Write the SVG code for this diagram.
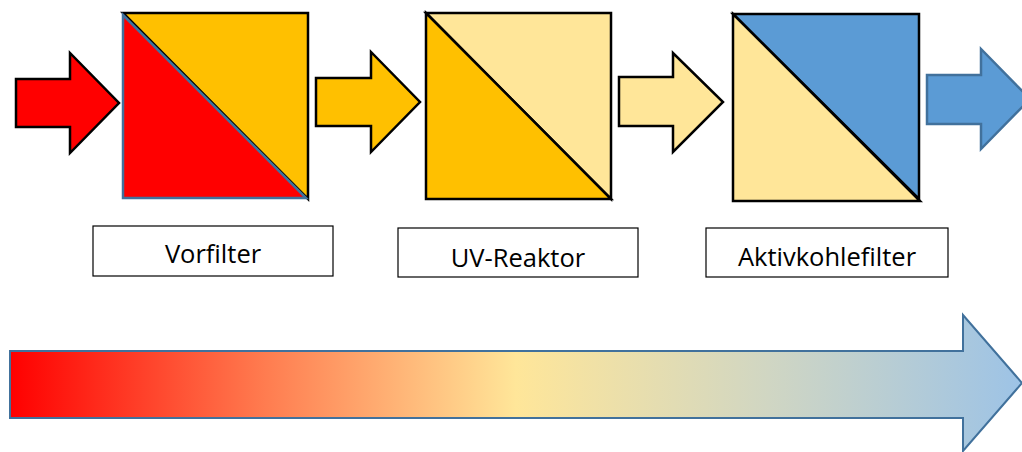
<svg xmlns="http://www.w3.org/2000/svg" width="1022" height="452" viewBox="0 0 1022 452">
<style>
.blk{stroke:#000;stroke-width:2.5;stroke-linejoin:miter}
.blu{stroke:#41719C;stroke-width:2.5;stroke-linejoin:miter}
.lbl{fill:#fff;stroke:#000;stroke-width:1.2}
.txt{font-family:"Open Sans","Noto Sans",sans-serif;font-size:25.5px;fill:#000;text-anchor:middle}
</style>
<defs>
<linearGradient id="flow" x1="10" y1="0" x2="1022" y2="0" gradientUnits="userSpaceOnUse">
<stop offset="0" stop-color="#FF0000"/>
<stop offset="0.25" stop-color="#FF7B4F"/>
<stop offset="0.5" stop-color="#FFE699"/>
<stop offset="0.75" stop-color="#D0D6C3"/>
<stop offset="1" stop-color="#9DC3E6"/>
</linearGradient>
</defs>
<g id="connectors">
<polygon class="blk" fill="#FF0000" points="16,79 70,79 70,53 119,103 70,153 70,127 16,127"/>
<polygon class="blk" fill="#FFC000" points="316,78 371,78 371,52 420,102 371,152 371,126 316,126"/>
<polygon class="blk" fill="#FFE699" points="619,77 673,77 673,53 723,102 673,152 673,126 619,126"/>
<polygon class="blu" fill="#5B9BD5" points="927,75 981,75 981,49 1030,99 981,149 981,124 927,124"/>
</g>
<g id="vorfilter">
<polygon class="blk" fill="#FFC000" points="123,13 308,13 308,199"/>
<polygon class="blu" fill="#FF0000" points="123,15 306,198 123,198"/>
<rect class="lbl" x="93" y="226" width="240" height="50"/>
<text class="txt" x="213" y="263">Vorfilter</text>
</g>
<g id="uv-reaktor">
<polygon class="blk" fill="#FFE699" points="426,13 611,13 611,199"/>
<polygon class="blk" fill="#FFC000" points="426,13 611,199 426,199"/>
<rect class="lbl" x="398" y="228" width="240" height="49"/>
<text class="txt" x="518" y="267">UV-Reaktor</text>
</g>
<g id="aktivkohlefilter">
<polygon class="blk" fill="#5B9BD5" points="733,14 919,14 919,199"/>
<polygon class="blk" fill="#FFE699" points="733,14 920,201 733,201"/>
<rect class="lbl" x="706" y="228" width="242" height="49"/>
<text class="txt" x="827" y="266">Aktivkohlefilter</text>
</g>
<g id="verlauf">
<polygon fill="url(#flow)" stroke="#41719C" stroke-width="2" points="10,351 963,351 963,315 1022,383 963,451 963,418 10,418"/>
</g>
</svg>
